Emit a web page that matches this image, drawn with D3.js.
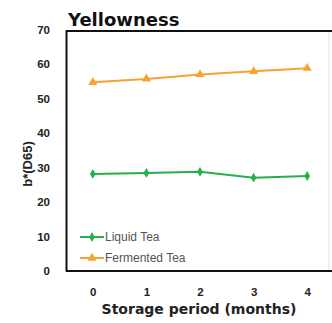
<!DOCTYPE html>
<html>
<head>
<meta charset="utf-8">
<script src="https://cdn.jsdelivr.net/npm/d3@7"></script>
<style>
  html, body { margin: 0; padding: 0; background: #fff; }
  svg { display: block; }
</style>
</head>
<body>
<svg id="chart" width="332" height="323"></svg>
<script>
// Storage months and b* (D65) yellowness values
const months = [0, 1, 2, 3, 4];
const liquidTea = [28.2, 28.5, 28.8, 27.1, 27.6];
const fermentedTea = [54.8, 55.8, 57.1, 58.0, 58.9];
const yTicks = [0, 10, 20, 30, 40, 50, 60, 70];
const seriesNames = ["Liquid Tea", "Fermented Tea"];

const svg = d3.select("#chart");
const plotLeft = 66, plotTop = 30, plotRight = 329, plotBottom = 271;

const x = d3.scalePoint().domain(months).range([plotLeft, 334]).padding(0.5);
const y = d3.scaleLinear().domain([0, 70]).range([plotBottom, plotTop]);

const green = "#25b04a", orange = "#f8a232";

// frame: light right edge, black top/left/bottom
svg.append("line").attr("x1", plotRight).attr("x2", plotRight).attr("y1", plotTop).attr("y2", plotBottom)
  .attr("stroke", "#e2e2e2").attr("stroke-width", 1);
svg.append("line").attr("x1", plotLeft).attr("x2", 332).attr("y1", plotTop + 1).attr("y2", plotTop + 1)
  .attr("stroke", "#111").attr("stroke-width", 2);

// axes without tick marks
const yAxis = svg.append("g").attr("transform", `translate(${plotLeft},0)`)
  .call(d3.axisLeft(y).tickValues(yTicks).tickSize(0).tickPadding(16));
const xAxis = svg.append("g").attr("transform", `translate(0,${plotBottom})`)
  .call(d3.axisBottom(x).tickSize(0).tickPadding(17));
[yAxis, xAxis].forEach(g => {
  g.select(".domain").attr("stroke", "#111").attr("stroke-width", 2);
  g.selectAll("text").attr("font-family", "Liberation Sans, Arial, sans-serif")
    .attr("font-weight", "bold").attr("font-size", 11.5).attr("fill", "#222");
});
yAxis.selectAll("text").attr("dy", "0.3em");
xAxis.select(".domain").attr("d", `M${plotLeft},0H332`);

// series lines and markers
const line = d3.line().x((d, i) => x(months[i])).y(d => y(d));
svg.append("path").datum(fermentedTea).attr("d", line)
  .attr("fill", "none").attr("stroke", orange).attr("stroke-width", 2);
svg.append("path").datum(liquidTea).attr("d", line)
  .attr("fill", "none").attr("stroke", green).attr("stroke-width", 2);

const tri = d3.symbol().type(d3.symbolTriangle).size(36);
const dia = d3.symbol().type(d3.symbolDiamond).size(28);
svg.append("g").selectAll("path").data(fermentedTea).join("path")
  .attr("d", tri).attr("fill", orange)
  .attr("transform", (d, i) => `translate(${x(months[i])},${y(d)})`);
svg.append("g").selectAll("path").data(liquidTea).join("path")
  .attr("d", dia).attr("fill", green)
  .attr("transform", (d, i) => `translate(${x(months[i])},${y(d)})`);

// legend inside plot
const legend = svg.append("g").attr("transform", "translate(80,237)");
[[seriesNames[0], green, dia], [seriesNames[1], orange, tri]].forEach(([name, col, sym], i) => {
  const g = legend.append("g").attr("transform", `translate(0,${i * 21})`);
  g.append("line").attr("x1", 0).attr("x2", 24).attr("stroke", col).attr("stroke-width", 2);
  g.append("path").attr("d", sym).attr("fill", col).attr("transform", "translate(12,0)");
  g.append("text").attr("x", 25).attr("dy", "0.35em").text(name)
    .attr("font-family", "Liberation Sans, Arial, sans-serif").attr("font-size", 12)
    .attr("fill", "#555");
});

// titles
svg.append("text").attr("x", 68).attr("y", 26).text("Yellowness")
  .attr("font-family", "DejaVu Sans, sans-serif").attr("font-weight", "bold")
  .attr("font-size", 18).attr("fill", "#111");
svg.append("text").attr("x", 199).attr("y", 314).attr("text-anchor", "middle")
  .text("Storage period (months)")
  .attr("font-family", "DejaVu Sans, sans-serif").attr("font-weight", "bold")
  .attr("font-size", 14).attr("fill", "#222");
svg.append("text").attr("transform", "translate(32,164) rotate(-90)")
  .attr("text-anchor", "middle").text("b*(D65)")
  .attr("font-family", "Liberation Sans, Arial, sans-serif").attr("font-weight", "bold")
  .attr("font-size", 13).attr("fill", "#222");
</script>
</body>
</html>
